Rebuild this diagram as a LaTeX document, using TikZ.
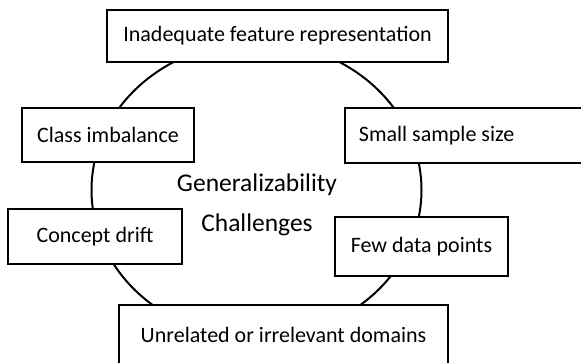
\documentclass[tikz,border=0pt]{standalone}
\usepackage{fontspec}
\setmainfont{Carlito}
\begin{document}
\begin{tikzpicture}[x=1pt,y=-1pt,
  box/.style={draw=black, line width=1.9pt, fill=white, inner sep=0pt, font=\fontsize{22}{24}\selectfont},
  center/.style={align=center, font=\fontsize{25.5}{40}\selectfont}]
\useasboundingbox (0,0) rectangle (581,363);
\draw[line width=2pt] (256.5,190) ellipse [x radius=165, y radius=148];
\node[center] (gc) at (257,205) {Generalizability\\Challenges};
\node[box, minimum width=341pt, minimum height=52pt] (top) at (277.5,36) {Inadequate feature representation};
\node[box, minimum width=172pt, minimum height=54pt] (ci) at (108,135) {Class imbalance};
\node[box, anchor=west, inner xsep=14pt, text width=213pt, align=flush left, minimum height=55pt] (ss) at (344,135.5) {Small sample size};
\node[box, minimum width=174pt, minimum height=55pt] (cd) at (95,236.5) {Concept drift};
\node[box, minimum width=173pt, minimum height=59pt] (fd) at (421.5,246.5) {Few data points};
\node[box, minimum width=329pt, minimum height=60pt] (ud) at (283.5,335) {Unrelated or irrelevant domains};
\end{tikzpicture}
\end{document}
